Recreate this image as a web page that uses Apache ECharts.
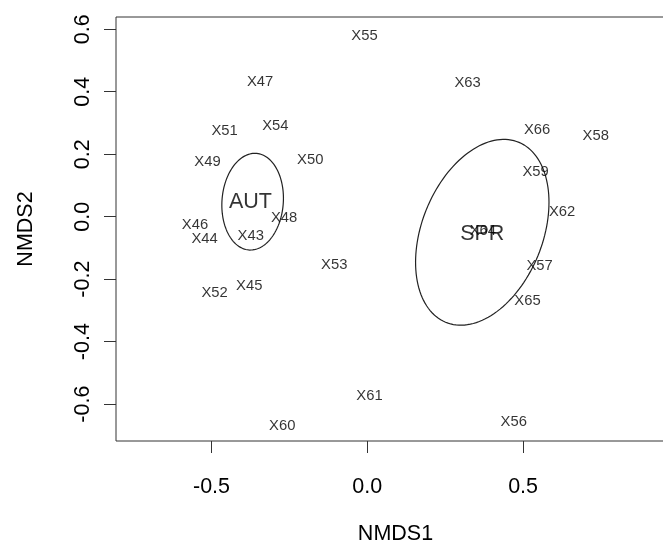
<!DOCTYPE html>
<html><head><meta charset="utf-8">
<script src="https://cdn.jsdelivr.net/npm/echarts@6/dist/echarts.min.js"></script>
<style>html,body{margin:0;padding:0;background:#fff}#c{width:663px;height:547px}</style>
</head><body><div id="c"></div>
<script>
// Site scores (labels drawn at their NMDS coordinates)
const siteNames = ['X43','X44','X45','X46','X47','X48','X49','X50','X51','X52','X53','X54','X55','X56','X57','X58','X59','X60','X61','X62','X63','X64','X65','X66'];
const nmds1 = [-0.374,-0.522,-0.379,-0.553,-0.344,-0.267,-0.513,-0.183,-0.458,-0.490,-0.106,-0.295,-0.009,0.470,0.553,0.733,0.540,-0.273,0.007,0.625,0.322,0.371,0.514,0.545];
const nmds2 = [-0.063,-0.070,-0.222,-0.026,0.432,-0.005,0.175,0.183,0.274,-0.244,-0.155,0.290,0.579,-0.658,-0.159,0.259,0.142,-0.671,-0.575,0.014,0.428,-0.044,-0.270,0.277];

// Group centroids / labels
const groupNames = ['AUT','SPR'];
const groupX = [-0.375, 0.369];
const groupY = [0.046, -0.055];

// Ellipse parameters (centre and covariance)
const ellipseCx = [-0.368, 0.369];
const ellipseCy = [0.048, -0.050];
const ellipseVarX = [0.00977, 0.04583];
const ellipseVarY = [0.02394, 0.08838];
const ellipseCovXY = [0.00109, 0.02054];

// Tick values
const xTicks = [-0.5, 0.0, 0.5];
const yTicks = [-0.6, -0.4, -0.2, 0.0, 0.2, 0.4, 0.6];

const FONT = "'Liberation Sans', Arial, sans-serif";
const chart = echarts.init(document.getElementById('c'), null, {renderer: 'canvas'});

chart.setOption({
  animation: false,
  backgroundColor: '#fff',
  grid: {left: 116, top: 17, width: 559, height: 424, outerBoundsMode: 'none', containLabel: false, show: true, borderColor: '#333', borderWidth: 1, backgroundColor: 'transparent'},
  xAxis: {
    type: 'value', min: -0.8065, max: 0.9875,
    name: 'NMDS1', nameLocation: 'middle', nameGap: 82,
    nameTextStyle: {fontFamily: FONT, fontSize: 21.5, color: '#000'},
    axisLine: {show: false, onZero: false}, splitLine: {show: false},
    axisTick: {show: true, length: 12, customValues: xTicks, lineStyle: {color: '#333', width: 1}},
    axisLabel: {customValues: xTicks, formatter: v => v.toFixed(1), fontFamily: FONT, fontSize: 21.5, color: '#000', margin: 35}
  },
  yAxis: {
    type: 'value', min: -0.7178, max: 0.639,
    name: 'NMDS2', nameLocation: 'middle', nameGap: 79,
    nameTextStyle: {fontFamily: FONT, fontSize: 21.5, color: '#000'},
    axisLine: {show: false, onZero: false}, splitLine: {show: false},
    axisTick: {show: true, length: 12, customValues: yTicks, lineStyle: {color: '#333', width: 1}},
    axisLabel: {customValues: yTicks, rotate: 90, formatter: v => v.toFixed(1), fontFamily: FONT, fontSize: 21.5, color: '#000', margin: 22}
  },
  series: [
    {
      type: 'custom',
      silent: true,
      data: ellipseCx.map((x, i) => [x, ellipseCy[i], i]),
      renderItem: function (params, api) {
        const i = api.value(2);
        const a = Math.sqrt(ellipseVarX[i]);
        const b = ellipseCovXY[i] / a;
        const c = Math.sqrt(ellipseVarY[i] - b * b);
        const pts = [];
        for (let k = 0; k < 140; k++) {
          const t = 2 * Math.PI * k / 140;
          pts.push(api.coord([ellipseCx[i] + a * Math.cos(t), ellipseCy[i] + b * Math.cos(t) + c * Math.sin(t)]));
        }
        return {type: 'polygon', shape: {points: pts}, style: {fill: 'none', stroke: '#222', lineWidth: 1.2}};
      }
    },
    {
      type: 'scatter',
      symbolSize: 1,
      itemStyle: {color: 'rgba(0,0,0,0)'},
      data: siteNames.map((n, i) => ({name: n, value: [nmds1[i], nmds2[i]]})),
      label: {show: true, position: 'inside', formatter: p => p.name, fontFamily: FONT, fontSize: 14.8, color: '#000'}
    },
    {
      type: 'scatter',
      symbolSize: 1,
      itemStyle: {color: 'rgba(0,0,0,0)'},
      data: groupNames.map((n, i) => ({name: n, value: [groupX[i], groupY[i]]})),
      label: {show: true, position: 'inside', formatter: p => p.name, fontFamily: FONT, fontSize: 21.5, color: '#000'}
    }
  ]
});
</script></body></html>
